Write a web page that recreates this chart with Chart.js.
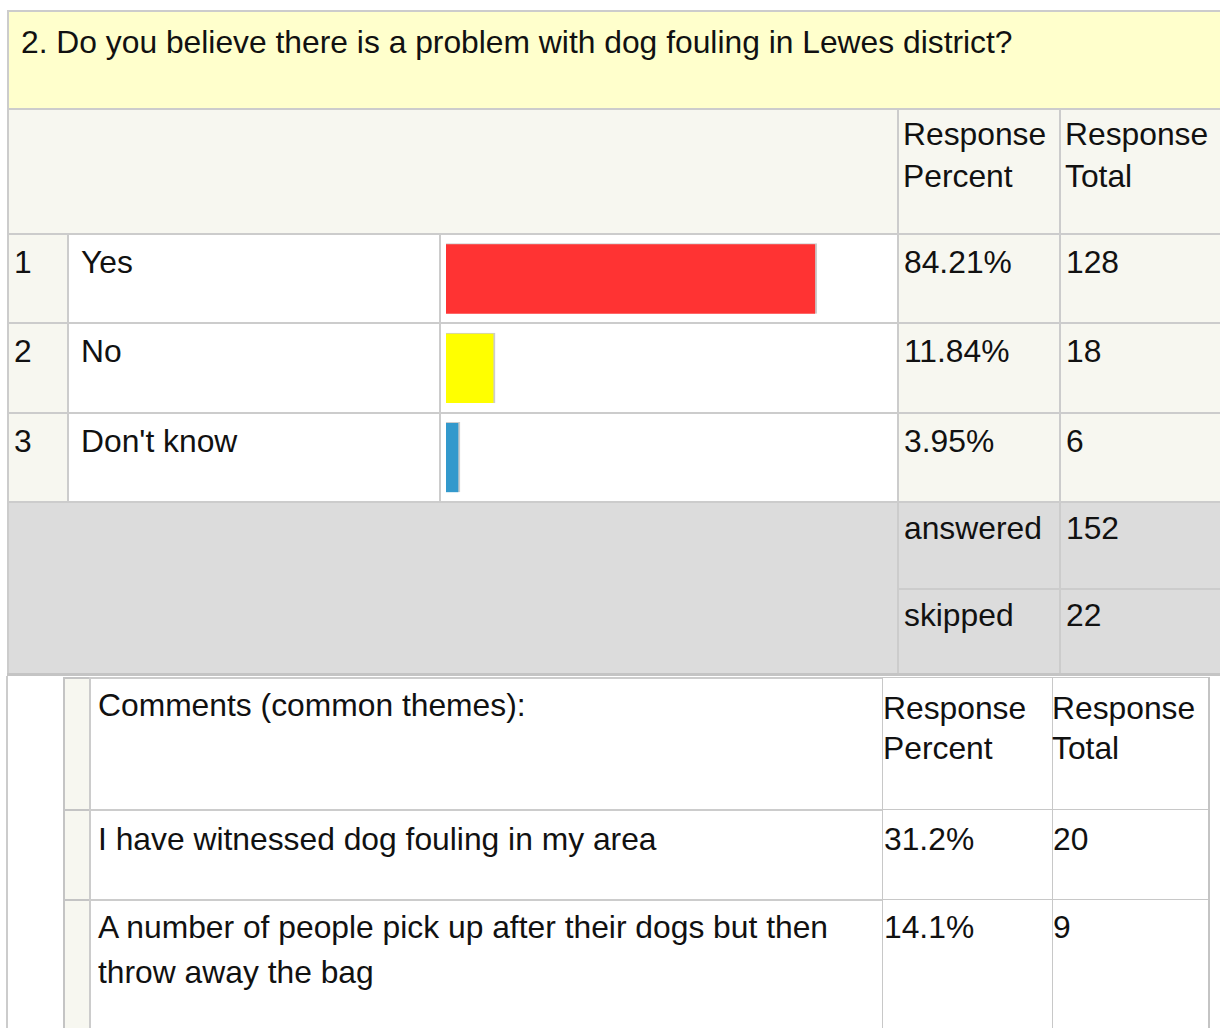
<!DOCTYPE html>
<html>
<head>
    <title>Dog fouling in Lewes district</title>
    <script src="https://cdn.jsdelivr.net/npm/chart.js"></script>
    <style>
        body {
            margin: 0;
            background: #fff;
            font-family: "Liberation Sans", Arial, sans-serif;
            font-size: 31.8px;
            color: #111;
            width: 1220px;
            height: 1028px;
            overflow: hidden;
            position: relative;
        }

        .cell {
            position: absolute;
            box-sizing: border-box;
        }

        .txt {
            position: absolute;
            white-space: nowrap;
        }

        #barBox {
            position: absolute;
            left: 446px;
            top: 234px;
            width: 441px;
            height: 268px;
        }
    </style>
</head>
<body>
    <div id="page"></div>
    <div id="barBox"><canvas id="bars"></canvas></div>

    <script>
        const question = '2. Do you believe there is a problem with dog fouling in Lewes district?';
        const categories = ['Yes', 'No', "Don't know"];
        const responsePercent = [84.21, 11.84, 3.95];
        const responseTotal = [128, 18, 6];
        const barColors = ['#ff3333', '#ffff00', '#3399cc'];
        const answeredCount = 152;
        const skippedCount = 22;

        const commentThemes = [
            'I have witnessed dog fouling in my area',
            'A number of people pick up after their dogs but then throw away the bag'
        ];
        const commentPercent = [31.2, 14.1];
        const commentTotal = [20, 9];

        const page = document.getElementById('page');
        const FS = 31.8;
        const LINE = '#cccccc';
        const CREAM = '#f7f7f0';

        function cell(x, y, w, h, bg, border) {
            const d = document.createElement('div');
            d.className = 'cell';
            d.style.left = x + 'px';
            d.style.top = y + 'px';
            d.style.width = w + 'px';
            d.style.height = h + 'px';
            d.style.background = bg;
            const b = border || '2px solid ' + LINE;
            d.style.borderLeft = b;
            d.style.borderTop = b;
            page.appendChild(d);
            return d;
        }

        // place text so that its first baseline sits at `base`
        function text(x, base, str, lh, width) {
            lh = lh || 41;
            const d = document.createElement('div');
            d.className = 'txt';
            d.style.left = x + 'px';
            d.style.top = (base - (lh / 2 + 0.3465 * FS)) + 'px';
            d.style.lineHeight = lh + 'px';
            if (width) {
                d.style.whiteSpace = 'normal';
                d.style.width = width + 'px';
            }
            d.innerHTML = str;
            page.appendChild(d);
        }

        // ---- first table ----
        cell(7, 10, 1220, 98, '#ffffcc');
        text(21, 54, question);

        cell(7, 108, 890, 125, CREAM);
        cell(897, 108, 162, 125, CREAM);
        cell(1059, 108, 170, 125, CREAM);
        text(903, 146, 'Response<br>Percent', 41.5);
        text(1065, 146, 'Response<br>Total', 41.5);

        const rowTop = [233, 322, 412, 501];
        categories.forEach((cat, i) => {
            const y = rowTop[i];
            const h = rowTop[i + 1] - y;
            cell(7, y, 60, h, CREAM);
            cell(67, y, 372, h, '#fff');
            cell(439, y, 458, h, '#fff');
            cell(897, y, 162, h, CREAM);
            cell(1059, y, 170, h, CREAM);
            const base = y + 41;
            text(14, base, String(i + 1));
            text(81, base, cat);
            text(904, base, responsePercent[i].toFixed(2) + '%');
            text(1066, base, String(responseTotal[i]));
        });

        cell(7, 501, 890, 172, '#dcdcdc');
        cell(897, 501, 162, 87, '#dcdcdc');
        cell(1059, 501, 170, 87, '#dcdcdc');
        cell(897, 588, 162, 85, '#dcdcdc');
        cell(1059, 588, 170, 85, '#dcdcdc');
        text(904, 540, 'answered');
        text(1066, 540, String(answeredCount));
        text(904, 627, 'skipped');
        text(1066, 627, String(skippedCount));

        // bottom rule and outer left edge
        cell(7, 673, 1220, 3, '#c4c4c4', 'none');
        cell(6, 676, 2, 360, LINE, 'none');

        // ---- comments table ----
        const cx = [63, 89, 882, 1052, 1208];
        const cRow = [677, 809, 899, 1040];
        const thin = '1px solid #c8c8c8';
        for (let r = 0; r < 3; r++) {
            const y = cRow[r];
            const h = cRow[r + 1] - y;
            cell(cx[0], y, cx[1] - cx[0], h, CREAM, '2px solid #c4c4c4');
            cell(cx[1], y, cx[2] - cx[1], h, '#fff', '2px solid ' + LINE);
            cell(cx[2], y, cx[3] - cx[2], h, '#fff', thin);
            cell(cx[3], y, cx[4] - cx[3], h, '#fff', thin);
        }
        cell(cx[4], 677, 2, 363, '#c4c4c4', 'none');

        text(98, 717, 'Comments (common themes):');
        text(883, 719, 'Response<br>Percent', 40);
        text(1052, 719, 'Response<br>Total', 40);

        const commentBase = [851, 939];
        commentThemes.forEach((theme, i) => {
            text(98, commentBase[i], theme, 45, 775);
            text(884, commentBase[i], commentPercent[i].toFixed(1) + '%');
            text(1053, commentBase[i], String(commentTotal[i]));
        });

        // ---- bars ----
        new Chart(document.getElementById('bars'), {
            type: 'bar',
            data: {
                labels: categories,
                datasets: [{
                    data: responsePercent,
                    backgroundColor: barColors,
                    borderColor: '#cccccc',
                    borderWidth: { top: 1, right: 2, bottom: 0, left: 0 },
                    borderSkipped: false,
                    barThickness: 70
                }]
            },
            options: {
                indexAxis: 'y',
                responsive: true,
                maintainAspectRatio: false,
                animation: false,
                layout: { padding: 0 },
                plugins: {
                    legend: { display: false },
                    tooltip: { enabled: false }
                },
                scales: {
                    x: { display: false, min: 0.8, max: 100 },
                    y: { display: false }
                }
            }
        });
    </script>
</body>
</html>
